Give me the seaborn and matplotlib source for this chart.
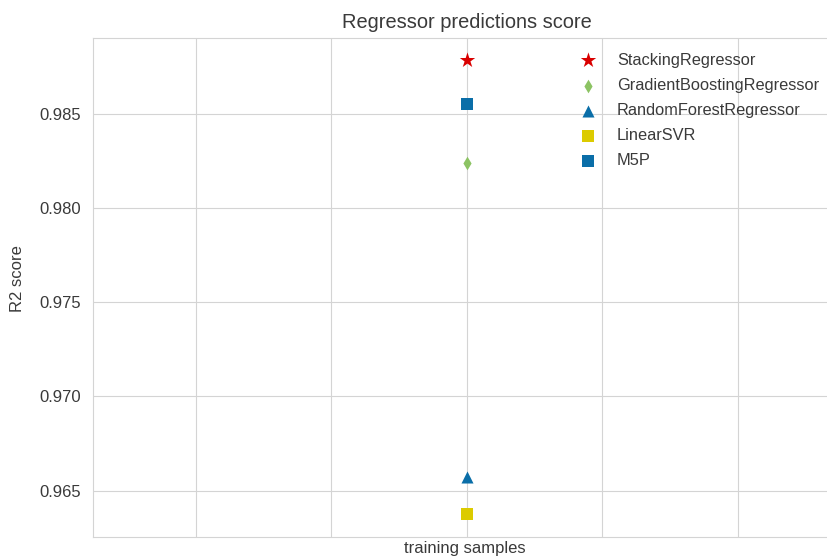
import matplotlib
matplotlib.use("Agg")
import matplotlib.pyplot as plt
import seaborn as sns
import pandas as pd

# R2 scores of each regressor on the held-out data
models = ["StackingRegressor", "GradientBoostingRegressor", "RandomForestRegressor", "LinearSVR", "M5P"]
scores = [0.98787, 0.98242, 0.96574, 0.96375, 0.98553]
train_samples = [0, 0, 0, 0, 0]

marker_shapes = ["*", "d", "^", "s", "s"]
marker_colors = ["#d90000", "#8cc363", "#0a6ea8", "#dccb00", "#0a6ea8"]
marker_areas = [135, 48, 75, 75, 78]

df = pd.DataFrame({"model": models, "score": scores, "training samples": train_samples})

sns.set_style("whitegrid", {
    "axes.edgecolor": "#d4d4d4",
    "grid.color": "#d4d4d4",
    "axes.linewidth": 1.0,
    "grid.linewidth": 1.0,
})
plt.rcParams["font.family"] = ["Liberation Sans", "DejaVu Sans"]
text_color = "#3a3a3a"

fig = plt.figure(figsize=(8.28, 5.58), dpi=100)
ax = fig.add_axes([93 / 828, 21 / 558, 747.4 / 828, 499 / 558])

for i, row in df.iterrows():
    sns.scatterplot(
        data=df.iloc[[i]], x="training samples", y="score",
        marker=marker_shapes[i], color=marker_colors[i], s=marker_areas[i],
        linewidth=0, label=row["model"], ax=ax,
    )

ax.set_xlim(-2.758, 2.758)
ax.set_xticks([-2, -1, 0, 1, 2])
ax.set_xticklabels([])
ax.set_ylim(0.96254, 0.98903)
ax.set_yticks([0.965, 0.970, 0.975, 0.980, 0.985])
ax.set_yticklabels([f"{v:.3f}" for v in [0.965, 0.970, 0.975, 0.980, 0.985]])
ax.tick_params(axis="both", length=0, labelsize=12, colors=text_color)
ax.tick_params(axis="y", pad=8.5)

ax.set_title("Regressor predictions score", fontsize=14.4, color=text_color, pad=7)
ax.set_ylabel("R2 score", fontsize=12, color=text_color)
ax.set_xlabel("training samples", fontsize=12, color=text_color)
ax.yaxis.set_label_coords(-0.091, 0.518)
ax.xaxis.set_label_coords(0.497, -0.008)

ax.legend(
    loc="upper left", frameon=False, fontsize=11.8, labelspacing=0.62,
    handletextpad=0.75,
    bbox_to_anchor=(557 / 828, 1 - 38 / 558), bbox_transform=fig.transFigure,
    labelcolor=text_color,
)

fig.savefig("out.png", dpi=100)
